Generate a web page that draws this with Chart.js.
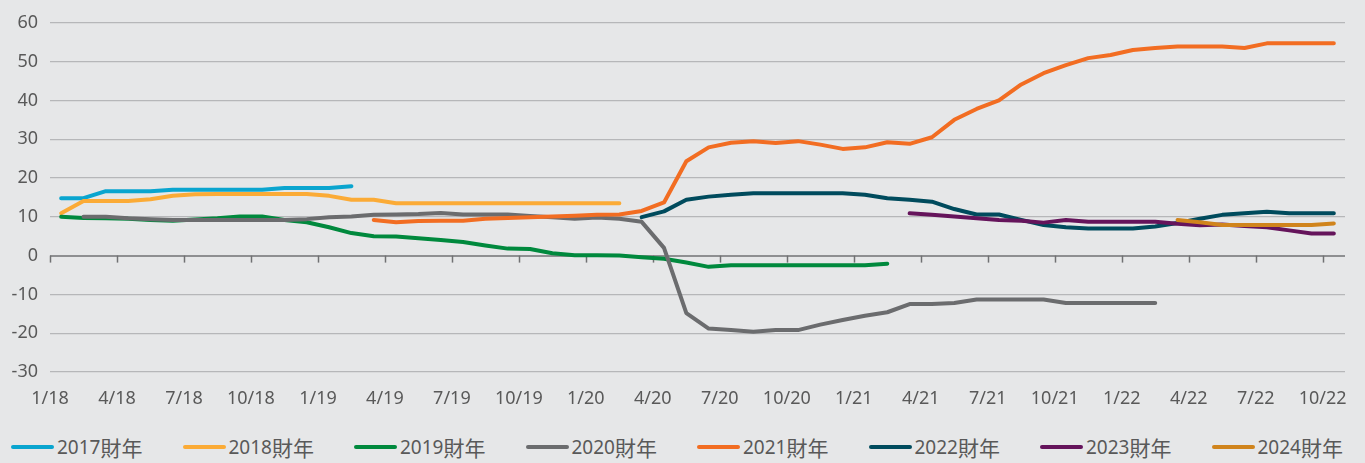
<!DOCTYPE html>
<html>
<head>
<meta charset="utf-8">
<script src="https://cdn.jsdelivr.net/npm/chart.js@4.4.1/dist/chart.umd.min.js"></script>
<style>
html,body{margin:0;padding:0;background:#e6e7e8;}
#wrap{position:relative;width:1365px;height:463px;overflow:hidden;background:#e6e7e8;}
#c{position:absolute;left:0;top:0;}
#legend{position:absolute;left:0;top:432px;width:1365px;height:30px;}
.item{position:absolute;top:0;height:30px;display:flex;align-items:center;white-space:nowrap;
  font:19px "Noto Sans","Noto Sans CJK TC",sans-serif;color:#595959;}
.item .cjk{font-size:21px;font-family:"Noto Sans CJK TC",sans-serif;}
.sw{width:43px;height:4px;border-radius:2px;margin-right:3px;}
</style>
</head>
<body>
<div id="wrap">
  <canvas id="c" width="1365" height="428"></canvas>
  <div id="legend"></div>
</div>
<script>
// ---- categories (monthly) ----
const months = [
  '1/18','2/18','3/18','4/18','5/18','6/18','7/18','8/18','9/18','10/18','11/18','12/18',
  '1/19','2/19','3/19','4/19','5/19','6/19','7/19','8/19','9/19','10/19','11/19','12/19',
  '1/20','2/20','3/20','4/20','5/20','6/20','7/20','8/20','9/20','10/20','11/20','12/20',
  '1/21','2/21','3/21','4/21','5/21','6/21','7/21','8/21','9/21','10/21','11/21','12/21',
  '1/22','2/22','3/22','4/22','5/22','6/22','7/22','8/22','9/22','10/22','11/22'
];
const tickLabels = ['1/18','4/18','7/18','10/18','1/19','4/19','7/19','10/19','1/20','4/20',
  '7/20','10/20','1/21','4/21','7/21','10/21','1/22','4/22','7/22','10/22'];
const yTicks = [-30,-20,-10,0,10,20,30,40,50,60];

// ---- series ----
const seriesNames = ['2017財年','2018財年','2019財年','2020財年','2021財年','2022財年','2023財年','2024財年'];
const seriesStarts = ['1/18','1/18','1/18','2/18','3/19','3/20','3/21','3/22'];

const fy2017 = [14.8,14.8,16.6,16.6,16.6,17.0,17.0,17.0,17.0,17.0,17.4,17.4,17.4,17.9];
const fy2018 = [10.9,14.1,14.1,14.1,14.5,15.4,15.8,15.9,15.9,15.9,15.9,15.9,15.4,14.4,14.4,13.5,
  13.5,13.5,13.5,13.5,13.5,13.5,13.5,13.5,13.5,13.5];
const fy2019 = [10.0,9.7,9.6,9.5,9.2,9.0,9.3,9.6,10.1,10.1,9.2,8.6,7.3,5.8,5.0,4.9,4.5,4.0,3.5,2.6,
  1.8,1.7,0.6,0.1,0.1,0.0,-0.4,-0.8,-1.8,-2.9,-2.5,-2.5,-2.5,-2.5,-2.5,-2.5,-2.5,-2.1];
const fy2020 = [10.0,10.0,9.6,9.4,9.2,9.2,9.2,9.2,9.2,9.2,9.4,9.9,10.1,10.5,10.6,10.7,11.0,10.6,10.6,10.6,
  10.2,9.9,9.5,9.8,9.5,8.7,2.0,-14.8,-18.8,-19.2,-19.6,-19.2,-19.2,-17.8,-16.6,-15.5,-14.6,-12.5,-12.5,-12.2,
  -11.3,-11.3,-11.3,-11.3,-12.2,-12.2,-12.2,-12.2,-12.2];
const fy2021 = [9.2,8.6,8.9,9.0,9.0,9.5,9.7,9.9,10.1,10.3,10.5,10.6,11.5,13.7,24.3,27.9,29.1,29.5,29.0,29.5,
  28.6,27.5,27.9,29.2,28.8,30.5,35.0,37.8,40.0,44.1,47.0,49.1,50.9,51.7,53.0,53.5,53.9,53.9,53.9,53.5,
  54.7,54.7,54.7,54.7];
const fy2022 = [9.9,11.4,14.4,15.2,15.7,16.1,16.1,16.1,16.1,16.1,15.7,14.8,14.4,13.9,12.0,10.6,10.6,9.2,7.9,7.3,
  7.0,7.0,7.0,7.5,8.4,9.5,10.5,10.9,11.3,10.9,10.9,10.9];
const fy2023 = [10.9,10.5,10.1,9.6,9.2,9.0,8.5,9.2,8.7,8.7,8.7,8.7,8.2,7.8,8.0,7.6,7.3,6.5,5.7,5.7];
const fy2024 = [9.2,8.6,7.9,7.9,7.9,7.9,7.9,8.3];

const seriesValues = [fy2017,fy2018,fy2019,fy2020,fy2021,fy2022,fy2023,fy2024];
const seriesColors = ['#0aa5cf','#fbab36','#00893d','#6b6c6e','#f26d22','#004b5d','#65145b','#d0841c'];

// values sit at mid-month
const datasets = seriesValues.map((vals, s) => {
  const start = months.indexOf(seriesStarts[s]);
  return {
    label: seriesNames[s],
    data: vals.map((v, k) => ({x: start + k + 0.5, y: v})),
    borderColor: seriesColors[s],
    backgroundColor: seriesColors[s],
    borderWidth: 4,
    pointRadius: 0,
    pointHoverRadius: 0,
    tension: 0,
    borderCapStyle: 'round',
    borderJoinStyle: 'round',
    order: seriesValues.length - s
  };
});

const bgPlugin = {
  id: 'bg',
  beforeDraw(chart) {
    const ctx = chart.ctx;
    ctx.save();
    ctx.fillStyle = '#e6e7e8';
    ctx.fillRect(0, 0, chart.width, chart.height);
    ctx.restore();
  }
};

const zeroTicks = {
  id: 'zeroTicks',
  beforeDatasetsDraw(chart) {
    const xs = chart.scales.x, ys = chart.scales.y;
    const y0 = ys.getPixelForValue(0);
    const ctx = chart.ctx;
    ctx.save();
    ctx.strokeStyle = '#707173';
    ctx.lineWidth = 1.5;
    xs.ticks.forEach(t => {
      const px = Math.round(xs.getPixelForValue(t.value)) + 0.5;
      ctx.beginPath();
      ctx.moveTo(px, y0);
      ctx.lineTo(px, y0 + 7);
      ctx.stroke();
    });
    ctx.restore();
  }
};

const font = {family: '"Noto Sans", "Noto Sans CJK TC", sans-serif', size: 18};

new Chart(document.getElementById('c'), {
  type: 'line',
  data: {datasets},
  plugins: [bgPlugin, zeroTicks],
  options: {
    responsive: false,
    animation: false,
    events: [],
    layout: {padding: {top: 22, right: 20, left: 0, bottom: 0}},
    plugins: {legend: {display: false}, tooltip: {enabled: false}},
    scales: {
      x: {
        type: 'linear',
        min: 0,
        max: months.length - 1,
        afterBuildTicks: (scale) => { scale.ticks = tickLabels.map(l => ({value: months.indexOf(l)})); },
        afterFit: (scale) => { scale.height = 56; },
        grid: {display: false, drawTicks: false},
        border: {display: false},
        ticks: {
          autoSkip: false, maxRotation: 0, padding: 16,
          color: '#595959', font,
          callback: (v) => months[v]
        }
      },
      y: {
        min: yTicks[0],
        max: yTicks[yTicks.length - 1],
        afterBuildTicks: (scale) => { scale.ticks = yTicks.map(v => ({value: v})); },
        afterFit: (scale) => { scale.width = 50; },
        border: {display: false},
        grid: {
          drawTicks: false,
          color: (c) => c.tick && c.tick.value === 0 ? '#8e8f91' : '#b6b7b9',
          lineWidth: (c) => c.tick && c.tick.value === 0 ? 2 : 1.2
        },
        ticks: {padding: 12, color: '#595959', font}
      }
    }
  }
});

// legend (HTML, evenly spaced)
const legend = document.getElementById('legend');
seriesNames.forEach((name, s) => {
  const it = document.createElement('div');
  it.className = 'item';
  it.style.left = (11 + s * 171.5) + 'px';
  const sw = document.createElement('span');
  sw.className = 'sw';
  sw.style.background = seriesColors[s];
  const m = name.match(/^(\d+)(.*)$/);
  const num = document.createElement('span');
  num.textContent = m[1];
  const cjk = document.createElement('span');
  cjk.className = 'cjk';
  cjk.textContent = m[2];
  it.appendChild(sw);
  it.appendChild(num);
  it.appendChild(cjk);
  legend.appendChild(it);
});
</script>
</body>
</html>
